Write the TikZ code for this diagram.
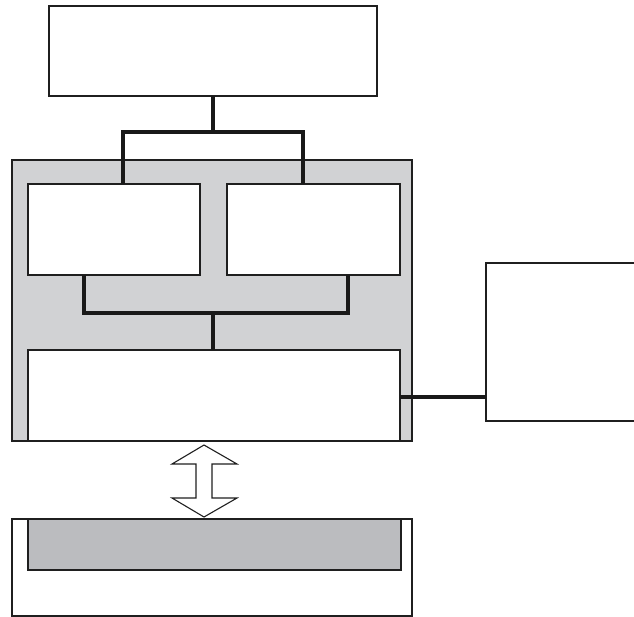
\documentclass[tikz,border=0pt]{standalone}
\begin{document}
\begin{tikzpicture}[x=1pt,y=-1pt,
  ink/.style={draw=black!88, line width=1.5pt},
  box/.style={ink, rectangle, inner sep=0pt, outer sep=0pt, anchor=north west},
  conn/.style={draw=black!90, line width=3.2pt},
]
\definecolor{lightpanel}{RGB}{209,210,212}
\definecolor{darkpanel}{RGB}{187,188,191}
\useasboundingbox (0,0) rectangle (634,616);
\clip (0,0) rectangle (634,616);
% top box
\node[box, fill=white, minimum width=328pt, minimum height=90pt] (top) at (49,6) {};
% gray panel
\node[box, fill=lightpanel, minimum width=400pt, minimum height=281pt] (panel) at (12,160) {};
\node[box, fill=white, minimum width=172pt, minimum height=91pt] (l) at (28,184) {};
\node[box, fill=white, minimum width=173pt, minimum height=91pt] (r) at (227,184) {};
\node[box, fill=white, minimum width=372pt, minimum height=91pt] (bot) at (28,350) {};
% right box
\node[box, fill=white, minimum width=170pt, minimum height=158pt] (side) at (486,263) {};
% bottom box
\node[box, fill=white, minimum width=400pt, minimum height=97pt] (base) at (12,519) {};
\node[box, fill=darkpanel, minimum width=373pt, minimum height=51pt] (strip) at (28,519) {};
% connectors
\draw[conn] (top.south -| 213,0) -- (213,132);
\draw[conn] (l.north -| 123,0) |- (213,132) -| (r.north -| 303,0);
\draw[conn] (l.south -| 84,0) |- (213,313) -| (r.south -| 348,0);
\draw[conn] (213,313) -- (bot.north -| 213,0);
\draw[conn] (bot.east |- 0,397) -- (side.west |- 0,397);
% double arrow
\draw[ink, fill=white, line width=1.1pt, line join=miter]
  (204,445) -- (237,464) -- (212,464) -- (212,498) -- (237,498) -- (204,517)
  -- (172,498) -- (196,498) -- (196,464) -- (172,464) -- cycle;
\end{tikzpicture}
\end{document}
